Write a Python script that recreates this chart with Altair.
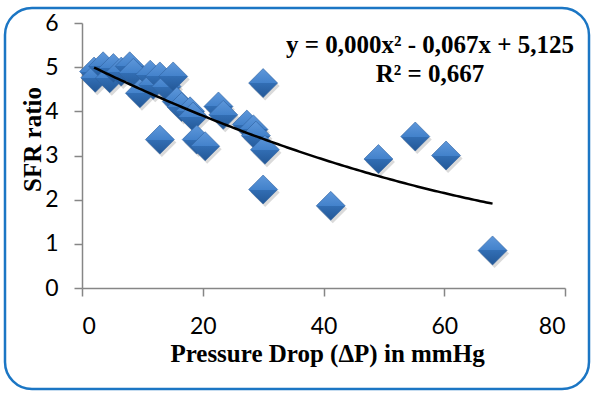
import altair as alt
import pandas as pd

# Pressure drop (mmHg) versus SFR ratio
pressure_drop = [2.0, 2.2, 3.5, 4.6, 5.2, 6.5, 7.9, 8.5, 9.6, 11.3, 11.8, 12.9,
                 14.0, 15.1, 15.7, 16.5, 17.9, 18.4, 22.6, 23.4, 27.3, 28.4,
                 28.8, 30.3, 12.9, 19.0, 20.4, 30.0, 30.0, 41.2, 49.1, 55.2,
                 60.3, 68.0]
sfr_ratio = [4.90, 4.76, 5.02, 4.75, 4.98, 4.90, 5.02, 4.87, 4.41, 4.83, 4.60,
             4.79, 4.56, 4.79, 4.22, 4.10, 4.00, 3.88, 4.11, 3.92, 3.70, 3.59,
             3.45, 3.13, 3.36, 3.36, 3.21, 4.64, 2.23, 1.86, 2.92, 3.43,
             3.00, 0.85]

# Second-order polynomial trendline: y = a*x^2 + b*x + c
trend_coef = [0.00029, -0.067, 5.125]
r_squared = 0.667

x_ticks = [0, 20, 40, 60, 80]
y_ticks = [0, 1, 2, 3, 4, 5, 6]

df = pd.DataFrame({"dp": pressure_drop, "sfr": sfr_ratio})


def fmt(v):
    return f"{abs(v):.3f}".replace(".", ",")


a, b, c = trend_coef
sign_b = "-" if b < 0 else "+"
sign_c = "-" if c < 0 else "+"
eq_lines = [
    f"y = {fmt(a)}x\u00b2 {sign_b} {fmt(b)}x {sign_c} {fmt(c)}",
    f"R\u00b2 = {fmt(r_squared)}",
]

W, H = 483, 265
x_scale = alt.Scale(domain=[0, 80], nice=False)
y_scale = alt.Scale(domain=[0, 6], nice=False)

x_axis = alt.Axis(
    values=x_ticks, title="Pressure Drop (\u0394P) in mmHg", grid=False,
    labelPadding=19, titleX=245, titleY=73, titleAlign="center",
    titleBaseline="alphabetic", titleAnchor="middle",
)
y_axis = alt.Axis(
    values=y_ticks, title="SFR ratio", grid=False, labelPadding=16,
    titleX=-42, titleY=116, titleAngle=270, titleAlign="center",
    titleBaseline="alphabetic",
)

base = alt.Chart(df).encode(
    x=alt.X("dp:Q", scale=x_scale, axis=x_axis),
    y=alt.Y("sfr:Q", scale=y_scale, axis=y_axis),
)

shadow = base.mark_point(
    shape="diamond", filled=True, size=841, color="#555555",
    opacity=0.22, xOffset=2, yOffset=3,
)

diamond_fill = alt.LinearGradient(
    gradient="linear", x1=0, y1=0, x2=0, y2=1,
    stops=[
        alt.GradientStop(offset=0.0, color="#5E97DA"),
        alt.GradientStop(offset=0.5, color="#4382CB"),
        alt.GradientStop(offset=0.5, color="#326EB4"),
        alt.GradientStop(offset=1.0, color="#235897"),
    ],
)
points = base.mark_point(
    shape="diamond", filled=True, size=841, fill=diamond_fill, opacity=1,
    stroke="#2F62A0", strokeWidth=0.6,
)

trend = (
    alt.Chart(alt.sequence(min(pressure_drop), max(pressure_drop) + 0.001, 0.5, as_="dp"))
    .transform_calculate(
        sfr=f"{a}*datum.dp*datum.dp + ({b})*datum.dp + {c}"
    )
    .mark_line(color="black", strokeWidth=2.5)
    .encode(
        x=alt.X("dp:Q", scale=x_scale, axis=x_axis),
        y=alt.Y("sfr:Q", scale=y_scale, axis=y_axis),
    )
)

equation = (
    alt.Chart(alt.Data(values=[{"t": 0}]))
    .mark_text(
        align="center", baseline="alphabetic", font="Liberation Serif",
        fontWeight="bold", fontSize=25, lineHeight=29, color="black",
    )
    .encode(x=alt.value(348), y=alt.value(30), text=alt.value(eq_lines))
)

frame = (
    alt.Chart(alt.Data(values=[{"t": 0}]))
    .mark_rect(
        fill=None, fillOpacity=0, stroke="#1B76C4", strokeWidth=2.5,
        cornerRadius=27,
    )
    .encode(
        x=alt.value(-77), x2=alt.value(507),
        y=alt.value(-15), y2=alt.value(366),
    )
)

chart = (
    alt.layer(frame, shadow, points, trend, equation)
    .properties(
        width=W, height=H,
        autosize=alt.AutoSizeParams(type="none"),
        padding={"left": 82, "top": 23, "right": 27, "bottom": 106},
        background="white",
    )
    .configure_view(stroke=None)
    .configure_axis(
        domainColor="#868686", domainWidth=1.5, tickColor="#868686",
        tickWidth=1.5, tickSize=8, labelFont="Lato", labelFontSize=23,
        labelColor="black", titleFont="Liberation Serif", titleFontSize=25,
        titleFontWeight="bold", titleColor="black",
    )
)

chart.save("out.html", embed_options={"renderer": "svg", "actions": False})
